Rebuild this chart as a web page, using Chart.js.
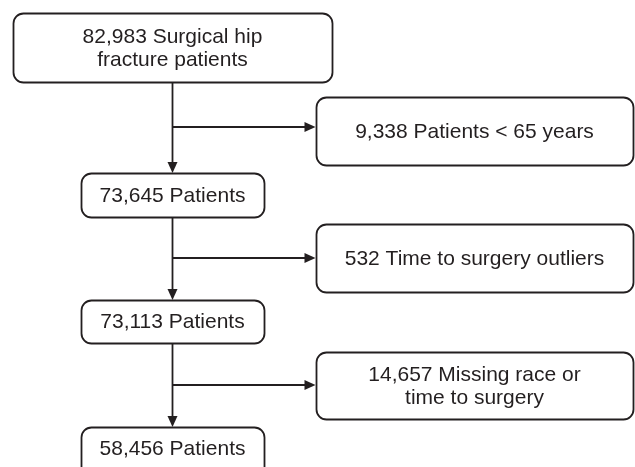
<!DOCTYPE html>
<html>
<head>
<meta charset="utf-8">
<script src="https://cdn.jsdelivr.net/npm/chart.js@4.4.0/dist/chart.umd.min.js"></script>
<style>
  html, body { margin: 0; padding: 0; background: #ffffff; }
  #wrap { position: relative; width: 635px; height: 467px; }
</style>
</head>
<body>
<div id="wrap"><canvas id="c"></canvas></div>
<script>
// ---- data ----
const remainingCounts = [82983, 73645, 73113, 58456];
const remainingText = [["Surgical hip", "fracture patients"], ["Patients"], ["Patients"], ["Patients"]];
const excludedCounts = [9338, 532, 14657];
const excludedText = [["Patients < 65 years"], ["Time to surgery outliers"], ["Missing race or", "time to surgery"]];

// ---- layout (in scale units: x 0..635, y 0..467 top-down) ----
const mainBoxes = [
  { x0: 13, x1: 332, y0: 13, y1: 82 },
  { x0: 81, x1: 264, y0: 173, y1: 217 },
  { x0: 81, x1: 264, y0: 300, y1: 343 },
  { x0: 81, x1: 264, y0: 427, y1: 490 }
];
const sideBoxes = [
  { x0: 316, x1: 633, y0: 97, y1: 165, branchY: 127 },
  { x0: 316, x1: 633, y0: 224, y1: 292, branchY: 258 },
  { x0: 316, x1: 633, y0: 352, y1: 419, branchY: 385 }
];
const spineX = 172.5;

function fmt(n) { return n.toLocaleString('en-US'); }
function buildLines(count, text) {
  const lines = text.slice();
  lines[0] = fmt(count) + ' ' + lines[0];
  return lines;
}

const ink = '#231f20';

function roundRect(ctx, x, y, w, h, r) {
  ctx.beginPath();
  ctx.moveTo(x + r, y);
  ctx.lineTo(x + w - r, y);
  ctx.arcTo(x + w, y, x + w, y + r, r);
  ctx.lineTo(x + w, y + h - r);
  ctx.arcTo(x + w, y + h, x + w - r, y + h, r);
  ctx.lineTo(x + r, y + h);
  ctx.arcTo(x, y + h, x, y + h - r, r);
  ctx.lineTo(x, y + r);
  ctx.arcTo(x, y, x + r, y, r);
  ctx.closePath();
}

const flowPlugin = {
  id: 'flow',
  afterDraw(chart) {
    const ctx = chart.ctx;
    const xs = chart.scales.x, ys = chart.scales.y;
    const px = v => xs.getPixelForValue(v);
    const py = v => ys.getPixelForValue(v);
    ctx.save();
    ctx.strokeStyle = ink;
    ctx.fillStyle = ink;
    ctx.lineWidth = 1.8;

    function box(b, lines) {
      const x0 = px(b.x0), x1 = px(b.x1), y0 = py(b.y0), y1 = py(b.y1);
      roundRect(ctx, x0 + 0.5, y0 + 0.5, x1 - x0, y1 - y0, 10);
      ctx.stroke();
      ctx.font = '21px "Liberation Sans", Arial, sans-serif';
      ctx.textAlign = 'center';
      ctx.textBaseline = 'middle';
      const cx = (x0 + x1) / 2;
      const visBottom = Math.min(y1, py(467));
      let cy = (y0 + y1) / 2;
      if (b.y1 > 467) cy = (y0 + visBottom) / 2 + 1;
      const lh = 23.5;
      const start = cy - (lines.length - 1) * lh / 2;
      lines.forEach((l, i) => ctx.fillText(l, cx, start + i * lh + 1));
    }

    function arrowDown(x, yTip) {
      ctx.beginPath();
      ctx.moveTo(x, yTip);
      ctx.lineTo(x - 5, yTip - 11);
      ctx.lineTo(x + 5, yTip - 11);
      ctx.closePath();
      ctx.fill();
    }
    function arrowRight(xTip, y) {
      ctx.beginPath();
      ctx.moveTo(xTip, y);
      ctx.lineTo(xTip - 11, y - 5);
      ctx.lineTo(xTip - 11, y + 5);
      ctx.closePath();
      ctx.fill();
    }

    mainBoxes.forEach((b, i) => box(b, buildLines(remainingCounts[i], remainingText[i])));
    sideBoxes.forEach((b, i) => box(b, buildLines(excludedCounts[i], excludedText[i])));

    // spine segments with arrows
    for (let i = 0; i < mainBoxes.length - 1; i++) {
      const a = mainBoxes[i], b = mainBoxes[i + 1];
      const x = px(spineX);
      ctx.beginPath();
      ctx.moveTo(x, py(a.y1));
      ctx.lineTo(x, py(b.y0) - 8);
      ctx.stroke();
      arrowDown(x, py(b.y0));
      const s = sideBoxes[i];
      const y = py(s.branchY);
      ctx.beginPath();
      ctx.moveTo(x, y);
      ctx.lineTo(px(s.x0) - 8, y);
      ctx.stroke();
      arrowRight(px(s.x0) - 0.5, y);
    }
    ctx.restore();
  }
};

new Chart(document.getElementById('c'), {
  type: 'scatter',
  data: {
    datasets: [{
      data: mainBoxes.map((b, i) => ({ x: (b.x0 + b.x1) / 2, y: remainingCounts[i] ? (b.y0 + b.y1) / 2 : 0 })),
      pointRadius: 0,
      showLine: false
    }]
  },
  options: {
    responsive: true,
    maintainAspectRatio: false,
    animation: false,
    layout: { padding: 0 },
    plugins: { legend: { display: false }, tooltip: { enabled: false } },
    scales: {
      x: { type: 'linear', min: 0, max: 635, display: false },
      y: { type: 'linear', min: 0, max: 467, reverse: true, display: false }
    }
  },
  plugins: [flowPlugin]
});
</script>
</body>
</html>
